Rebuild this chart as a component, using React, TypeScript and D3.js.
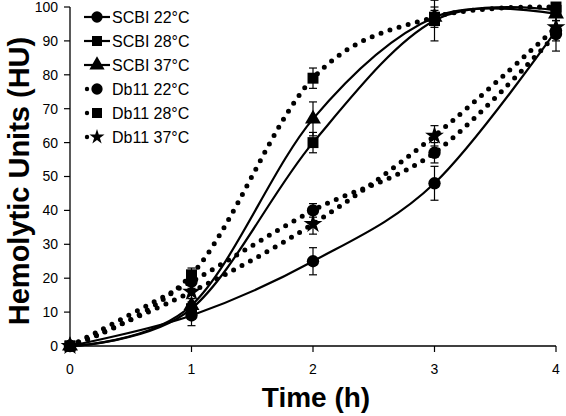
import React from "react";
import * as d3 from "d3";

const times = [0, 1, 2, 3, 4];
const seriesNames = ["SCBI 22°C", "SCBI 28°C", "SCBI 37°C", "Db11 22°C", "Db11 28°C", "Db11 37°C"];
const scbi22 = [0, 9, 25, 48, 93];
const scbi28 = [0, 11, 60, 96, 99];
const scbi37 = [0, 12, 67, 97, 98];
const db22 = [0, 19, 40, 57, 92];
const db28 = [0, 21, 79, 97, 100];
const db37 = [0, 16, 36, 62, 94];
const scbi22Err = [0, 3, 4, 5, 3];
const scbi28Err = [0, 2, 3, 6, 1];
const scbi37Err = [0, 2, 5, 3, 2];
const db22Err = [0, 2, 2, 3, 5];
const db28Err = [0, 2, 3, 2, 1];
const db37Err = [0, 2, 3, 3, 2];
const yTicks = [0, 10, 20, 30, 40, 50, 60, 70, 80, 90, 100];
const xTicks = [0, 1, 2, 3, 4];

const W = 566, H = 416;
const x = d3.scaleLinear().domain([0, 4]).range([70, 556]);
const y = d3.scaleLinear().domain([0, 100]).range([346, 7]);

type Marker = "circle" | "square" | "triangle" | "star";
const series = [
  { name: seriesNames[0], vals: scbi22, err: scbi22Err, dotted: false, marker: "circle" as Marker },
  { name: seriesNames[1], vals: scbi28, err: scbi28Err, dotted: false, marker: "square" as Marker },
  { name: seriesNames[2], vals: scbi37, err: scbi37Err, dotted: false, marker: "triangle" as Marker },
  { name: seriesNames[3], vals: db22, err: db22Err, dotted: true, marker: "circle" as Marker },
  { name: seriesNames[4], vals: db28, err: db28Err, dotted: true, marker: "square" as Marker },
  { name: seriesNames[5], vals: db37, err: db37Err, dotted: true, marker: "star" as Marker },
];

const symPath = (m: Marker, size: number) => {
  const t =
    m === "circle" ? d3.symbolCircle : m === "square" ? d3.symbolSquare : m === "triangle" ? d3.symbolTriangle : d3.symbolStar;
  return d3.symbol().type(t).size(size)() as string;
};
const markerSize: Record<Marker, number> = { circle: 120, square: 120, triangle: 110, star: 110 };

const line = d3
  .line<number>()
  .x((_, i) => x(times[i]))
  .y((v) => y(v))
  .curve(d3.curveCardinal.tension(0));

export default function App() {
  const font = "Arial, 'Liberation Sans', sans-serif";
  return (
    <svg width={W} height={H} style={{ position: "absolute", left: 0, top: 0, background: "#fff" }} fontFamily={font}>
      <rect width={W} height={H} fill="#fff" />
      {/* axes */}
      <line x1={70} x2={70} y1={y(100)} y2={y(0)} stroke="#000" strokeWidth={1.3} />
      <line x1={70} x2={x(4)} y1={y(0)} y2={y(0)} stroke="#000" strokeWidth={1.3} />
      {yTicks.map((t) => (
        <g key={"y" + t}>
          <line x1={64} x2={70} y1={y(t)} y2={y(t)} stroke="#000" strokeWidth={1.2} />
          <text x={58} y={y(t)} dy="0.35em" textAnchor="end" fontSize={14}>
            {t}
          </text>
        </g>
      ))}
      {xTicks.map((t) => (
        <g key={"x" + t}>
          <line x1={x(t)} x2={x(t)} y1={y(0)} y2={y(0) + 6} stroke="#000" strokeWidth={1.2} />
          <text x={x(t)} y={369} dy="0.35em" textAnchor="middle" fontSize={14}>
            {t}
          </text>
        </g>
      ))}
      <text x={316} y={397} dy="0.35em" textAnchor="middle" fontSize={28} fontWeight="bold">
        Time (h)
      </text>
      <text
        transform={`translate(19,181) rotate(-90)`}
        dy="0.35em"
        textAnchor="middle"
        fontSize={29}
        fontWeight="bold"
      >
        Hemolytic Units (HU)
      </text>
      {/* lines */}
      {series.map((s) => (
        <path
          key={"l" + s.name}
          d={line(s.vals) as string}
          fill="none"
          stroke="#000"
          strokeWidth={s.dotted ? 5 : 2.2}
          strokeDasharray={s.dotted ? "0 9.5" : undefined}
          strokeLinecap={s.dotted ? "round" : "butt"}
        />
      ))}
      {/* error bars */}
      {series.map((s) =>
        s.vals.map((v, i) =>
          s.err[i] > 0 ? (
            <g key={"e" + s.name + i} stroke="#000" strokeWidth={1.2}>
              <line x1={x(times[i])} x2={x(times[i])} y1={y(v - s.err[i])} y2={y(v + s.err[i])} />
              <line x1={x(times[i]) - 4} x2={x(times[i]) + 4} y1={y(v - s.err[i])} y2={y(v - s.err[i])} />
              <line x1={x(times[i]) - 4} x2={x(times[i]) + 4} y1={y(v + s.err[i])} y2={y(v + s.err[i])} />
            </g>
          ) : null
        )
      )}
      {/* markers */}
      {series.map((s) =>
        s.vals.map((v, i) => (
          <path
            key={"m" + s.name + i}
            d={symPath(s.marker, markerSize[s.marker])}
            transform={`translate(${x(times[i])},${y(v)})`}
            fill="#000"
          />
        ))
      )}
      {/* legend */}
      {series.map((s, i) => {
        const cy = 17 + i * 24;
        return (
          <g key={"lg" + s.name}>
            {s.dotted ? (
              <circle cx={87} cy={cy} r={2.2} fill="#000" />
            ) : (
              <line x1={84} x2={110} y1={cy} y2={cy} stroke="#000" strokeWidth={2.2} />
            )}
            <path d={symPath(s.marker, s.marker === "star" ? 70 : 100)} transform={`translate(97,${cy})`} fill="#000" />
            <text x={112} y={cy} dy="0.36em" fontSize={16}>
              {s.name}
            </text>
          </g>
        );
      })}
    </svg>
  );
}
